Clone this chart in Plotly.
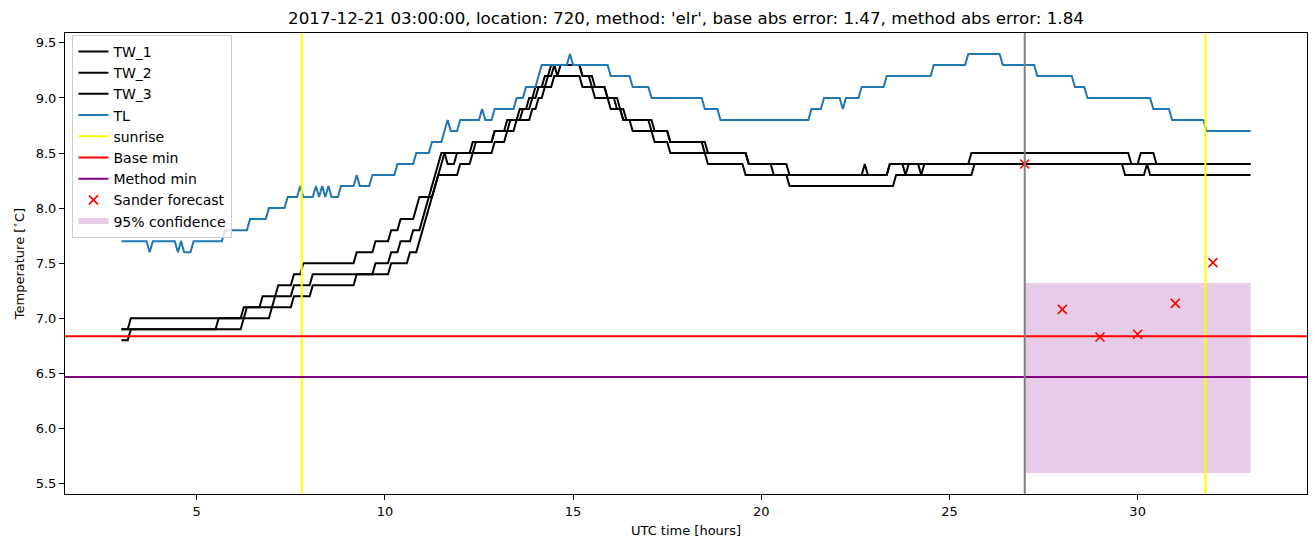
import plotly.graph_objects as go

# ---------------- data (hours UTC, temperature in degC) ----------------
tw1_t = [3.0, 3.167, 3.25, 6.167, 6.25, 6.667, 6.75, 7.083, 7.167, 7.5, 7.583, 7.75, 7.833, 9.167, 9.25, 9.667, 9.75,
         10.083, 10.167, 10.333, 10.417, 10.75, 10.833, 10.917, 11.167, 11.25, 11.333, 11.417, 11.5, 11.583, 11.667,
         11.833, 11.917, 12.25, 12.333, 12.833, 12.917, 13.167, 13.25, 13.5, 13.583, 13.75, 13.833, 13.917, 14.0,
         14.167, 14.25, 14.333, 14.417, 15.167, 15.25, 15.417, 15.5, 15.833, 15.917, 16.083, 16.167, 16.25, 16.333,
         17.0, 17.083, 17.5, 17.583, 18.417, 18.5, 19.583, 19.667, 20.667, 20.75, 22.667, 22.75, 22.833, 23.333,
         23.417, 23.75, 23.833, 23.917, 25.5, 25.583, 29.75, 29.833, 30.0, 30.083, 30.417, 30.5, 33.0]
tw1_v = [6.9, 6.9, 7.0, 7.0, 7.1, 7.1, 7.2, 7.2, 7.3, 7.3, 7.4, 7.4, 7.5, 7.5, 7.6, 7.6, 7.7,
         7.7, 7.8, 7.8, 7.9, 7.9, 8.0, 8.1, 8.1, 8.2, 8.3, 8.4, 8.5, 8.5, 8.4,
         8.4, 8.5, 8.5, 8.6, 8.6, 8.7, 8.7, 8.8, 8.8, 8.9, 8.9, 9.0, 9.0, 9.1,
         9.1, 9.2, 9.2, 9.3, 9.3, 9.2, 9.2, 9.1, 9.1, 9.0, 9.0, 8.9, 8.9, 8.8,
         8.8, 8.7, 8.7, 8.6, 8.6, 8.5, 8.5, 8.4, 8.4, 8.3, 8.3, 8.4, 8.3, 8.3,
         8.4, 8.4, 8.3, 8.4, 8.4, 8.5, 8.5, 8.4, 8.4, 8.5, 8.5, 8.4, 8.4]

tw2_t = [3.0, 5.5, 5.583, 6.25, 6.333, 7.0, 7.083, 7.5, 7.583, 8.0, 8.083, 9.667, 9.75, 10.083, 10.167, 10.333,
         10.417, 10.667, 10.75, 10.917, 11.0, 11.083, 11.167, 11.25, 11.333, 11.417, 11.5, 11.583, 12.333, 12.417,
         12.833, 12.917, 13.25, 13.333, 13.583, 13.667, 13.833, 13.917, 14.0, 14.083, 14.25, 14.333, 14.417, 14.5,
         14.583, 14.667, 15.167, 15.25, 15.5, 15.583, 15.833, 15.917, 16.167, 16.25, 16.333, 16.417, 17.083, 17.167,
         17.5, 17.583, 18.5, 18.583, 19.583, 19.667, 20.25, 20.333, 23.333, 23.417, 24.167, 24.25, 24.333, 33.0]
tw2_v = [6.9, 6.9, 7.0, 7.0, 7.1, 7.1, 7.2, 7.2, 7.3, 7.3, 7.4, 7.4, 7.5, 7.5, 7.6, 7.6,
         7.7, 7.7, 7.8, 7.8, 7.9, 8.0, 8.1, 8.1, 8.2, 8.3, 8.4, 8.5, 8.5, 8.6,
         8.6, 8.7, 8.7, 8.8, 8.8, 8.9, 8.9, 9.0, 9.0, 9.1, 9.1, 9.2, 9.2, 9.3,
         9.2, 9.3, 9.3, 9.2, 9.2, 9.1, 9.1, 9.0, 9.0, 8.9, 8.9, 8.8, 8.8, 8.7,
         8.7, 8.6, 8.6, 8.5, 8.5, 8.4, 8.4, 8.3, 8.3, 8.4, 8.4, 8.3, 8.4, 8.4]

tw3_t = [3.0, 3.167, 3.25, 6.167, 6.25, 6.917, 7.0, 7.5, 7.583, 8.0, 8.083, 9.167, 9.25, 10.083, 10.167, 10.583,
         10.667, 10.833, 10.917, 11.0, 11.083, 11.167, 11.25, 11.333, 11.417, 11.917, 12.0, 12.25, 12.333, 12.833,
         12.917, 13.167, 13.25, 13.417, 13.5, 13.833, 13.917, 14.0, 14.083, 14.167, 14.25, 14.417, 14.5, 15.167,
         15.25, 15.5, 15.583, 15.917, 16.0, 16.25, 16.333, 16.5, 16.583, 17.083, 17.167, 17.5, 17.583, 18.5, 18.583,
         19.5, 19.583, 20.667, 20.75, 23.5, 23.583, 25.583, 25.667, 29.583, 29.667, 30.167, 30.25, 30.333, 33.0]
tw3_v = [6.8, 6.8, 6.9, 6.9, 7.0, 7.0, 7.1, 7.1, 7.2, 7.2, 7.3, 7.3, 7.4, 7.4, 7.5, 7.5,
         7.6, 7.6, 7.7, 7.8, 7.9, 8.0, 8.1, 8.2, 8.3, 8.3, 8.4, 8.4, 8.5, 8.5,
         8.6, 8.6, 8.7, 8.7, 8.8, 8.8, 8.9, 8.9, 9.0, 9.0, 9.1, 9.1, 9.2, 9.2,
         9.1, 9.1, 9.0, 9.0, 8.9, 8.9, 8.8, 8.8, 8.7, 8.7, 8.6, 8.6, 8.5, 8.5, 8.4,
         8.4, 8.3, 8.3, 8.2, 8.2, 8.3, 8.3, 8.4, 8.4, 8.3, 8.3, 8.4, 8.3, 8.3]

tl_t = [3.0, 3.667, 3.75, 3.833, 4.417, 4.5, 4.583, 4.667, 4.833, 4.917, 5.667, 5.75, 6.333, 6.417, 6.833, 6.917,
        7.333, 7.417, 7.667, 7.75, 7.833, 8.083, 8.167, 8.25, 8.333, 8.417, 8.5, 8.583, 8.75, 8.833, 9.167, 9.25,
        9.333, 9.583, 9.667, 10.25, 10.333, 10.75, 10.833, 11.167, 11.25, 11.5, 11.583, 11.667, 11.75, 11.917, 12.0,
        12.5, 12.583, 12.667, 12.833, 12.917, 13.417, 13.5, 13.667, 13.75, 14.0, 14.083, 14.167, 14.833, 14.917,
        15.0, 15.917, 16.0, 16.5, 16.583, 17.0, 17.083, 18.417, 18.5, 18.833, 18.917, 21.25, 21.333, 21.583, 21.667,
        22.083, 22.167, 22.25, 22.583, 22.667, 23.25, 23.333, 24.5, 24.583, 25.417, 25.5, 26.333, 26.417, 27.25,
        27.333, 28.25, 28.333, 28.583, 28.667, 30.333, 30.417, 30.833, 30.917, 31.75, 31.833, 33.0]
tl_v = [7.7, 7.7, 7.6, 7.7, 7.7, 7.6, 7.7, 7.6, 7.6, 7.7, 7.7, 7.8, 7.8, 7.9, 7.9, 8.0,
        8.0, 8.1, 8.1, 8.2, 8.1, 8.1, 8.2, 8.1, 8.2, 8.1, 8.2, 8.1, 8.1, 8.2, 8.2, 8.3,
        8.2, 8.2, 8.3, 8.3, 8.4, 8.4, 8.5, 8.5, 8.6, 8.6, 8.7, 8.8, 8.7, 8.7, 8.8,
        8.8, 8.9, 8.8, 8.8, 8.9, 8.9, 9.0, 9.0, 9.1, 9.1, 9.2, 9.3, 9.3, 9.4,
        9.3, 9.3, 9.2, 9.2, 9.1, 9.1, 9.0, 9.0, 8.9, 8.9, 8.8, 8.8, 8.9, 8.9, 9.0,
        9.0, 8.9, 9.0, 9.0, 9.1, 9.1, 9.2, 9.2, 9.3, 9.3, 9.4, 9.4, 9.3, 9.3,
        9.2, 9.2, 9.1, 9.1, 9.0, 9.0, 8.9, 8.9, 8.8, 8.8, 8.7, 8.7]

sunrise_hours = [7.79, 31.80]
forecast_start = 27.0
base_min = 6.836
method_min = 6.466
forecast_hours = [27, 28, 29, 30, 31, 32]
forecast_values = [8.40, 7.08, 6.83, 6.855, 7.135, 7.505]
conf_hours = [27, 33]
conf_low = [5.594, 5.594]
conf_high = [7.321, 7.321]

title = ("2017-12-21 03:00:00, location: 720, method: 'elr', "
         "base abs error: 1.47, method abs error: 1.84")

# ---------------- figure ----------------
FONT = "DejaVu Sans"
fig = go.Figure()

# confidence band (drawn first so it lies under everything)
fig.add_trace(go.Scatter(x=conf_hours, y=conf_low, mode="lines", line=dict(width=0),
                         hoverinfo="skip", showlegend=False))
fig.add_trace(go.Scatter(x=conf_hours, y=conf_high, mode="none", fill="tonexty",
                         fillcolor="rgba(128,0,128,0.2)", name="95% confidence", legendrank=9))

for i, (t, v) in enumerate([(tw1_t, tw1_v), (tw2_t, tw2_v), (tw3_t, tw3_v)]):
    fig.add_trace(go.Scatter(x=t, y=v, mode="lines", line=dict(color="black", width=2),
                             name=f"TW_{i + 1}", legendrank=i + 1))
fig.add_trace(go.Scatter(x=tl_t, y=tl_v, mode="lines", line=dict(color="#1f77b4", width=2),
                         name="TL", legendrank=4))

# legend proxies for the reference lines (drawn as shapes)
fig.add_trace(go.Scatter(x=[None], y=[None], mode="lines", line=dict(color="yellow", width=2),
                         name="sunrise", legendrank=5))
fig.add_trace(go.Scatter(x=[None], y=[None], mode="lines", line=dict(color="red", width=2),
                         name="Base min", legendrank=6))
fig.add_trace(go.Scatter(x=[None], y=[None], mode="lines", line=dict(color="purple", width=2),
                         name="Method min", legendrank=7))

for s in sunrise_hours:
    fig.add_shape(type="line", xref="x", yref="paper", x0=s, x1=s, y0=0, y1=1,
                  line=dict(color="yellow", width=2), layer="above")
fig.add_shape(type="line", xref="paper", yref="y", x0=0, x1=1, y0=base_min, y1=base_min,
              line=dict(color="red", width=2), layer="above")
fig.add_shape(type="line", xref="paper", yref="y", x0=0, x1=1, y0=method_min, y1=method_min,
              line=dict(color="purple", width=2), layer="above")
fig.add_shape(type="line", xref="x", yref="paper", x0=forecast_start, x1=forecast_start, y0=0, y1=1,
              line=dict(color="grey", width=2), layer="above")

fig.add_trace(go.Scatter(x=forecast_hours, y=forecast_values, mode="markers",
                         marker=dict(symbol="x-thin", size=9, line=dict(color="red", width=1.6), color="red"),
                         name="Sander forecast", legendrank=8))

axis_common = dict(showline=True, linecolor="black", linewidth=1, mirror=True, ticks="outside",
                   ticklen=5, tickwidth=1, tickcolor="black", showgrid=False, zeroline=False,
                   tickfont=dict(family=FONT, size=13, color="black"))

fig.update_layout(
    width=1315, height=547,
    margin=dict(l=65, r=8, t=33, b=53),
    paper_bgcolor="white", plot_bgcolor="white",
    font=dict(family=FONT, size=13, color="black"),
    title=dict(text=title, x=0.5, xref="paper", xanchor="center", y=1 - 18 / 547, yref="container",
               yanchor="middle", font=dict(family=FONT, size=16.7, color="black")),
    xaxis=dict(range=[1.5, 34.5], tickvals=[5, 10, 15, 20, 25, 30],
               title=dict(text="UTC time [hours]", font=dict(family=FONT, size=13), standoff=8),
               **axis_common),
    yaxis=dict(range=[5.404, 9.59], tickvals=[5.5, 6.0, 6.5, 7.0, 7.5, 8.0, 8.5, 9.0, 9.5], tickformat=".1f",
               title=dict(text="Temperature [<sup>∘</sup>C]", font=dict(family=FONT, size=13), standoff=8),
               **axis_common),
    legend=dict(x=0.006, y=0.996, xanchor="left", yanchor="top", bgcolor="rgba(255,255,255,0.8)",
                bordercolor="#cccccc", borderwidth=1, font=dict(family=FONT, size=14), itemwidth=30,
                traceorder="normal", tracegroupgap=0),
    showlegend=True,
)

fig.write_html("out.html")
